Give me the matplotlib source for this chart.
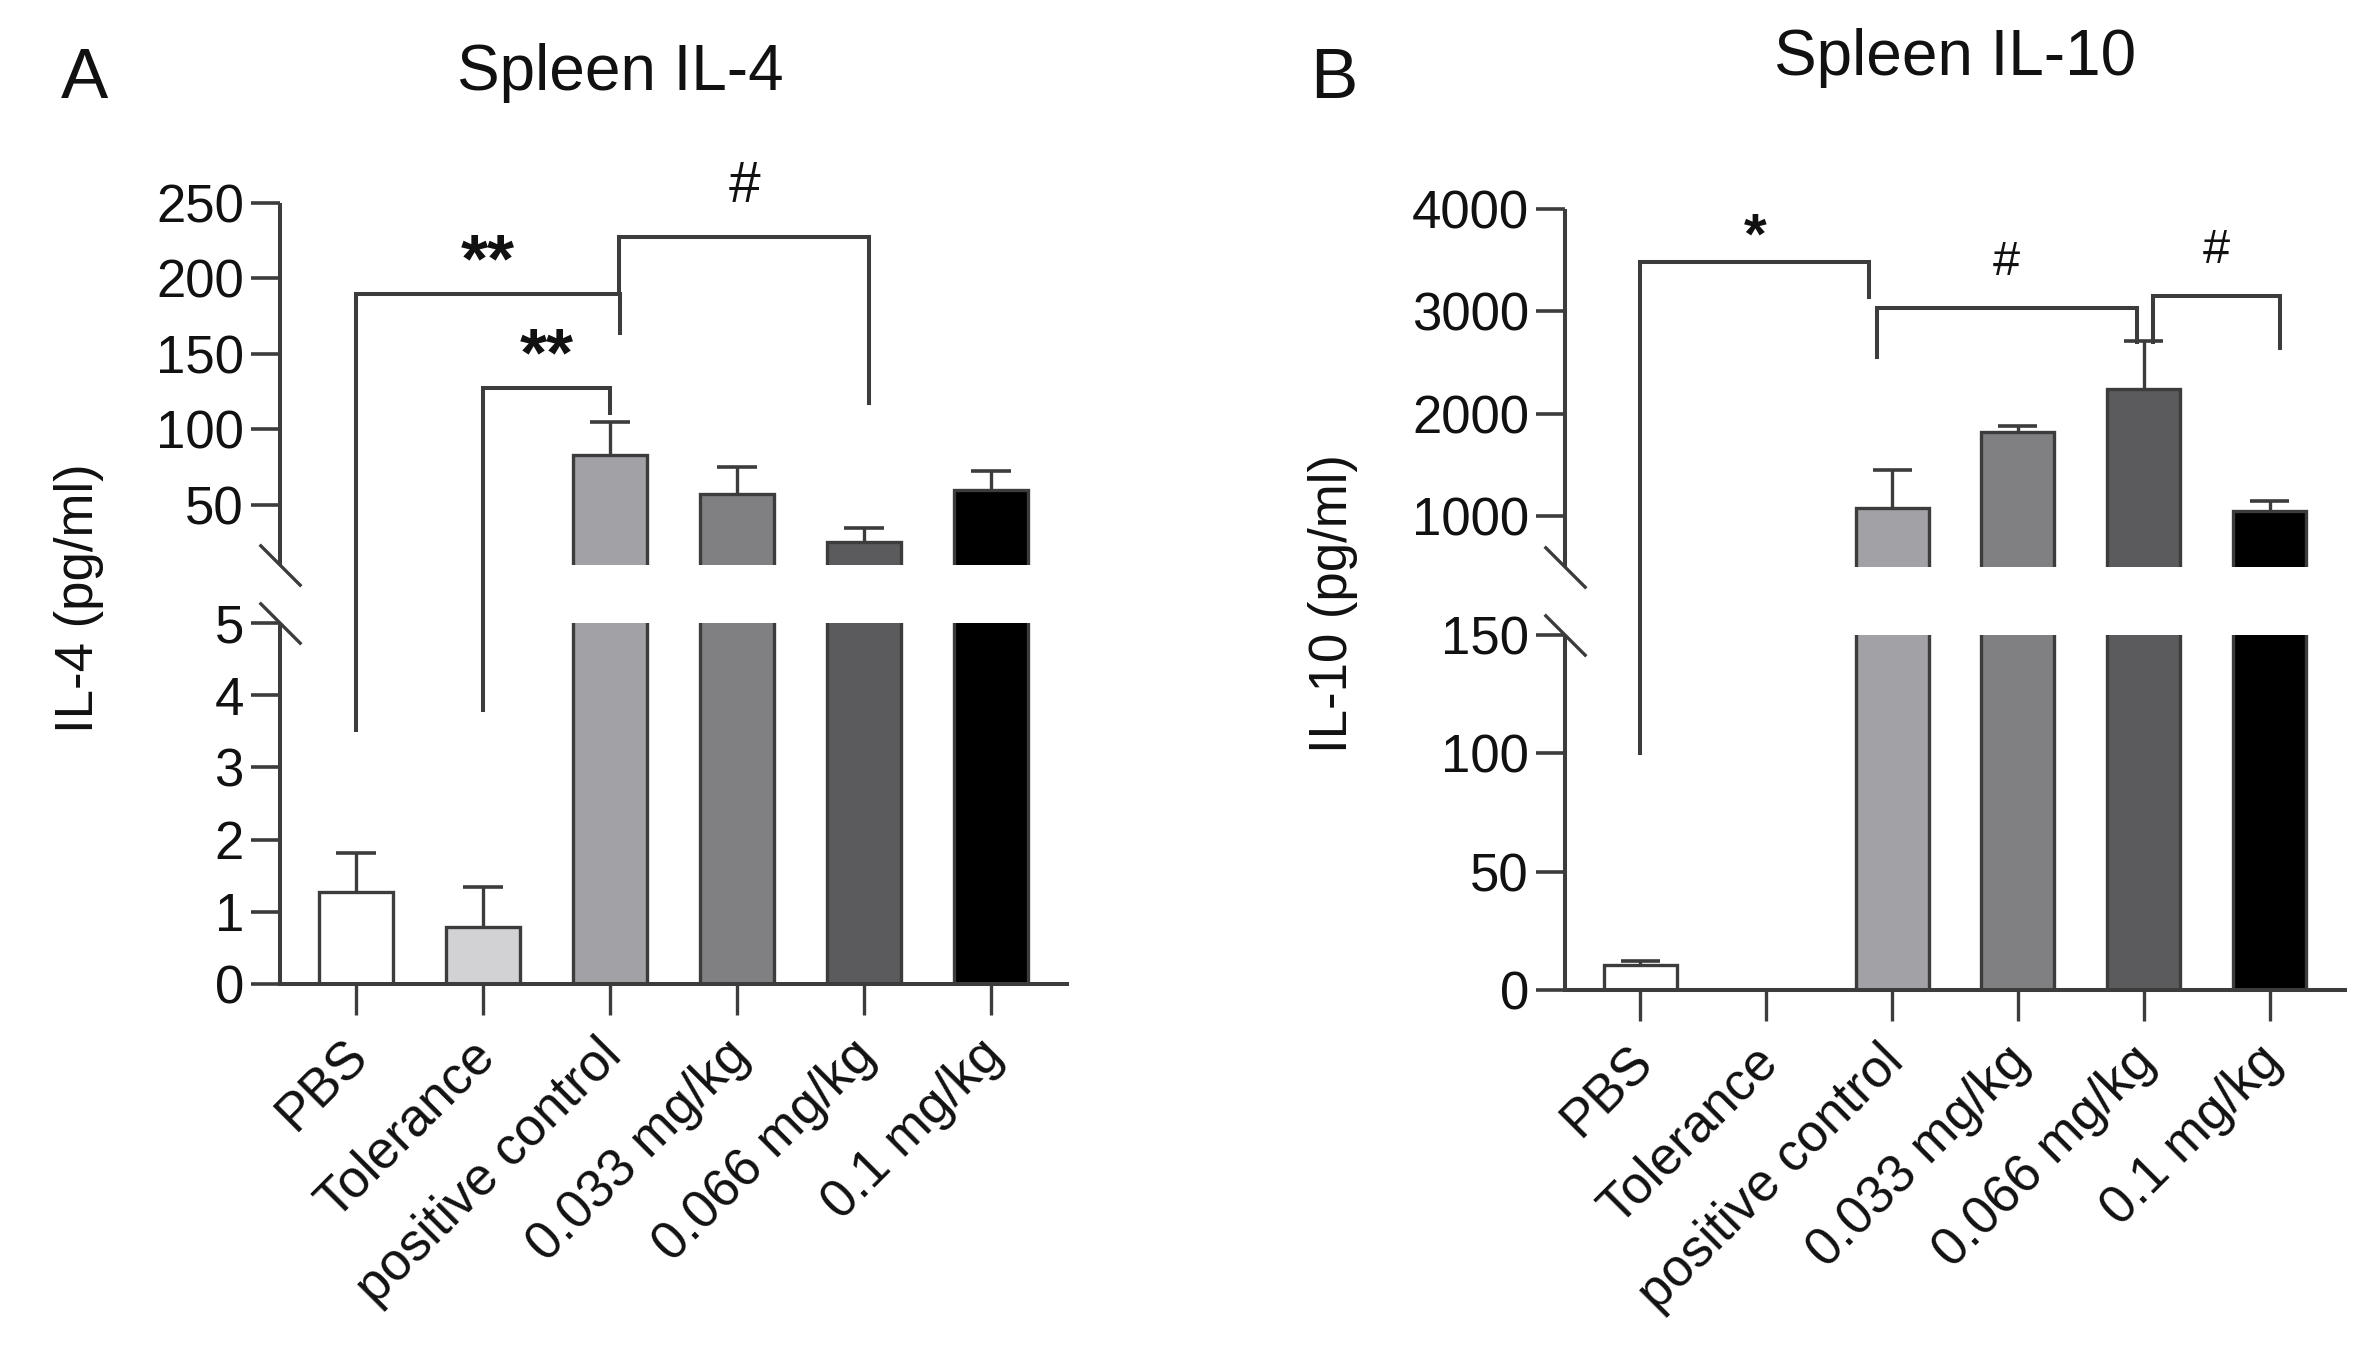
import numpy as np
import matplotlib
matplotlib.use('Agg')
import matplotlib.pyplot as plt
from matplotlib.path import Path
import matplotlib.transforms as mtransforms

plt.rcParams['font.family'] = ['Liberation Sans', 'DejaVu Sans']

# ---------------- data ----------------
categories = ['PBS', 'Tolerance', 'positive control', '0.033 mg/kg', '0.066 mg/kg', '0.1 mg/kg']

il4_mean = [1.27, 0.79, 83, 57, 25.4, 59.7]
il4_err = [0.54, 0.56, 22, 18, 9.3, 12.8]
il4_ticks = [0, 1, 2, 3, 4, 5, 50, 100, 150, 200, 250]
il4_break = (5, 10)
il4_top = 250

il10_mean = [10.5, 0, 1075, 1820, 2240, 1043]
il10_err = [1.8, 0, 372, 62, 468, 100]
il10_ticks = [0, 50, 100, 150, 1000, 2000, 3000, 4000]
il10_break = (150, 500)
il10_top = 4000

# brackets: (x_left, x_right, y_line, y_left_leg_end, y_right_leg_end, label, label_x)
il4_brackets = [
    (0.0, 2.08, 190, 3.52, 164, '**', 1.04),
    (1.0, 2.0, 127.5, 3.8, 111, '**', 1.5),
    (2.07, 4.04, 227.5, 190, 117.5, '#', 3.06),
]
il10_brackets = [
    (0.0, 1.82, 3480, 100, 3140, '*', 0.91),
    (1.88, 3.95, 3030, 2550, 2700, '#', 2.91),
    (4.07, 5.08, 3150, 2700, 2640, '#', 4.58),
]

bar_colors = ['#ffffff', '#d2d2d4', '#a2a2a6', '#808083', '#5b5b5e', '#000000']

# ---------------- layout ----------------
W, H = 2378, 1351
DPI = 100
fig = plt.figure(figsize=(W / DPI, H / DPI), dpi=DPI)
LC = '#3c3c3c'


def fx(x):
    return x / W


def fy(y):
    return 1 - y / H


def make_scale(lo_top, hi_bot, top, f_lo, f_gap):
    v = [0.0, lo_top, hi_bot, top]
    p = [0.0, f_lo, f_lo + f_gap, 1.0]
    s_hi = (1 - p[2]) / (top - hi_bot)
    s_lo = f_lo / lo_top

    def fwd(x):
        x = np.asarray(x, float)
        out = np.interp(x, v, p)
        out = np.where(x > top, 1 + (x - top) * s_hi, out)
        out = np.where(x < 0, x * s_lo, out)
        return out

    def inv(y):
        y = np.asarray(y, float)
        out = np.interp(y, p, v)
        out = np.where(y > 1, top + (y - 1) / s_hi, out)
        out = np.where(y < 0, y / s_lo, out)
        return out
    return fwd, inv


slash = Path([(-1, 1), (1, -1)], [Path.MOVETO, Path.LINETO])


def panel(rect_px, means, errs, ticks, brk, top, frac, brackets,
          star_size, star_off, hash_size, hash_off):
    left, bottom, width, height = rect_px
    ax = fig.add_axes([fx(left), fy(bottom), width / W, height / H])
    fwd, inv = make_scale(brk[0], brk[1], top, frac[0], frac[1])
    ax.set_yscale('function', functions=(fwd, inv))
    ax.set_ylim(0, top)
    ax.set_xlim(-0.6, 5.6)
    x = np.arange(len(categories))
    ax.bar(x, means, width=0.58, color=bar_colors, edgecolor=LC,
           linewidth=2.4, zorder=2)
    for xi, m, e in zip(x, means, errs):
        if m > 0 and e > 0:
            ax.vlines(xi, m, m + e, colors=LC, lw=2.4, zorder=3)
            ax.hlines(m + e, xi - 0.155, xi + 0.155, colors=LC, lw=2.6, zorder=3)
    # gap of the broken axis
    ax.axhspan(brk[0], brk[1], color='white', zorder=2.5, lw=0)
    for s in ['top', 'right', 'left']:
        ax.spines[s].set_visible(False)
    ax.spines['bottom'].set_color(LC)
    ax.spines['bottom'].set_linewidth(2.9)
    trans = mtransforms.blended_transform_factory(ax.transAxes, ax.transData)
    ax.plot([0, 0], [0, brk[0]], color=LC, lw=2.9, transform=trans,
            clip_on=False, solid_capstyle='butt', zorder=5)
    ax.plot([0, 0], [brk[1], top], color=LC, lw=2.9, transform=trans,
            clip_on=False, solid_capstyle='butt', zorder=5)
    ax.plot([0, 0], [brk[0], brk[1]], ls='none', marker=slash, ms=30,
            mew=2.4, mec=LC, transform=trans, clip_on=False, zorder=5)
    ax.set_yticks(ticks)
    ax.set_yticklabels([str(t) for t in ticks])
    ax.tick_params(axis='y', length=21, width=2.6, color=LC, pad=5,
                   labelsize=38, labelcolor='#111111')
    ax.set_xticks(x)
    ax.set_xticklabels(categories, rotation=45, ha='right', va='baseline',
                       rotation_mode='anchor')
    ax.tick_params(axis='x', length=22, width=2.4, color=LC, pad=31,
                   labelsize=38, labelcolor='#111111')
    off = mtransforms.ScaledTranslation(14 / DPI, 0, fig.dpi_scale_trans)
    for lbl in ax.get_xticklabels():
        lbl.set_transform(lbl.get_transform() + off)
    for (x1, x2, yl, y1, y2, lab, lx) in brackets:
        ax.plot([x1, x1, x2, x2], [y1, yl, yl, y2], color=LC, lw=2.9,
                clip_on=False, zorder=6, solid_joinstyle='miter')
        if lab.startswith('*'):
            ax.annotate(lab, xy=(lx, yl), xytext=(0, star_off), textcoords='offset points',
                        ha='center', va='baseline', fontsize=star_size,
                        fontweight='bold', color='#111111', annotation_clip=False)
        else:
            ax.annotate(lab, xy=(lx, yl), xytext=(0, hash_off), textcoords='offset points',
                        ha='center', va='baseline', fontsize=hash_size,
                        color='#111111', annotation_clip=False)
    return ax


axA = panel((280, 984, 787, 781), il4_mean, il4_err, il4_ticks, il4_break,
            il4_top, (361 / 781, 58 / 781), il4_brackets, 50, 9, 41, 25)
axB = panel((1565, 990, 780, 781), il10_mean, il10_err, il10_ticks, il10_break,
            il10_top, (355 / 781, 68 / 781), il10_brackets, 42, 6, 35, 24)

# titles, panel letters, axis labels
fig.text(fx(61), fy(98), 'A', fontsize=51, ha='left', va='baseline', color='#111111')
fig.text(fx(1310), fy(98), 'B', fontsize=51, ha='left', va='baseline', color='#111111')
fig.text(fx(620), fy(90), 'Spleen IL-4', fontsize=46, ha='center', va='baseline', color='#111111')
fig.text(fx(1955), fy(75), 'Spleen IL-10', fontsize=46, ha='center', va='baseline', color='#111111')
fig.text(fx(79), fy(598), 'IL-4 (pg/ml)', fontsize=38, rotation=90,
         ha='center', va='center', color='#111111')
fig.text(fx(1333), fy(604), 'IL-10 (pg/ml)', fontsize=38, rotation=90,
         ha='center', va='center', color='#111111')

fig.savefig('out.png', dpi=DPI, facecolor='white')
